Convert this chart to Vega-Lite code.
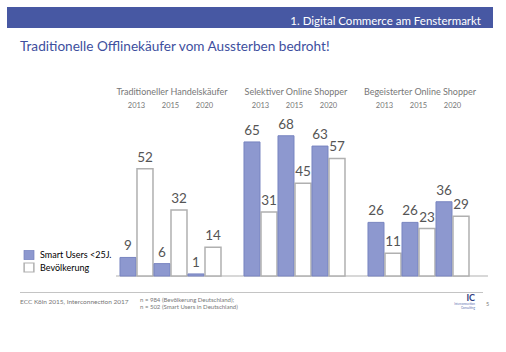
{
  "$schema": "https://vega.github.io/schema/vega-lite/v6.json",
  "padding": {"left": 7, "top": 7, "right": 0, "bottom": 0},
  "background": "white",
  "config": {"view": {"stroke": null}, "font": "Lato"},
  "spacing": 15,
  "vconcat": [
    {
      "spacing": 12,
      "vconcat": [
        {
          "width": 486,
          "height": 21,
          "view": {"fill": "#4758a3", "stroke": null},
          "data": {"values": [{"label": "1. Digital Commerce am Fenstermarkt"}]},
          "mark": {"type": "text", "align": "right", "baseline": "alphabetic", "dx": -12, "dy": -3, "fontSize": 11.5, "color": "#ffffff", "font": "Lato"},
          "encoding": {
            "text": {"field": "label", "type": "nominal"},
            "x": {"value": "width"},
            "y": {"value": "height"}
          }
        },
        {
          "width": 486,
          "height": 165,
          "title": {"text": "Traditionelle Offlinekäufer vom Aussterben bedroht!", "anchor": "start", "frame": "group", "dx": 13, "offset": 33, "fontSize": 13.6, "fontWeight": "normal", "font": "Lato", "color": "#3e4f9e"},
          "data": {"values": [
            {"group": "Traditioneller Handelskäufer", "year": "2013", "series": "Smart Users <25J.", "slot": "2013 S", "value": 9},
            {"group": "Traditioneller Handelskäufer", "year": "2013", "series": "Bevölkerung", "slot": "2013 B", "value": 52},
            {"group": "Traditioneller Handelskäufer", "year": "2015", "series": "Smart Users <25J.", "slot": "2015 S", "value": 6},
            {"group": "Traditioneller Handelskäufer", "year": "2015", "series": "Bevölkerung", "slot": "2015 B", "value": 32},
            {"group": "Traditioneller Handelskäufer", "year": "2020", "series": "Smart Users <25J.", "slot": "2020 S", "value": 1},
            {"group": "Traditioneller Handelskäufer", "year": "2020", "series": "Bevölkerung", "slot": "2020 B", "value": 14},
            {"group": "Selektiver Online Shopper", "year": "2013", "series": "Smart Users <25J.", "slot": "2013 S", "value": 65},
            {"group": "Selektiver Online Shopper", "year": "2013", "series": "Bevölkerung", "slot": "2013 B", "value": 31},
            {"group": "Selektiver Online Shopper", "year": "2015", "series": "Smart Users <25J.", "slot": "2015 S", "value": 68},
            {"group": "Selektiver Online Shopper", "year": "2015", "series": "Bevölkerung", "slot": "2015 B", "value": 45},
            {"group": "Selektiver Online Shopper", "year": "2020", "series": "Smart Users <25J.", "slot": "2020 S", "value": 63},
            {"group": "Selektiver Online Shopper", "year": "2020", "series": "Bevölkerung", "slot": "2020 B", "value": 57},
            {"group": "Begeisterter Online Shopper", "year": "2013", "series": "Smart Users <25J.", "slot": "2013 S", "value": 26},
            {"group": "Begeisterter Online Shopper", "year": "2013", "series": "Bevölkerung", "slot": "2013 B", "value": 11},
            {"group": "Begeisterter Online Shopper", "year": "2015", "series": "Smart Users <25J.", "slot": "2015 S", "value": 26},
            {"group": "Begeisterter Online Shopper", "year": "2015", "series": "Bevölkerung", "slot": "2015 B", "value": 23},
            {"group": "Begeisterter Online Shopper", "year": "2020", "series": "Smart Users <25J.", "slot": "2020 S", "value": 36},
            {"group": "Begeisterter Online Shopper", "year": "2020", "series": "Bevölkerung", "slot": "2020 B", "value": 29}
          ]},
          "encoding": {
            "x": {
              "field": "group", "type": "nominal",
              "sort": ["Traditioneller Handelskäufer", "Selektiver Online Shopper", "Begeisterter Online Shopper"],
              "scale": {"paddingInner": 0, "paddingOuter": 0.4597, "align": 0.956},
              "axis": {"orient": "top", "title": null, "domain": false, "ticks": false, "tickSize": 0, "labelPadding": 15, "labelOffset": -6, "labelFontSize": 9, "labelColor": "#777777", "labelFont": "Lato", "labelAngle": 0}
            }
          },
          "layer": [
            {
              "transform": [{"filter": "datum.slot === '2013 S'"}],
              "mark": {"type": "rect", "fill": null, "stroke": "#cccccc", "strokeWidth": 1.6},
              "encoding": {
                "y": {"datum": 0, "type": "quantitative", "scale": {"domain": [0, 76]}, "axis": null},
                "y2": {"datum": 0}
              }
            },
            {
              "mark": {"type": "bar"},
              "encoding": {
                "xOffset": {"field": "slot", "type": "nominal", "scale": {"domain": ["2013 S", "2013 B", "2015 S", "2015 B", "2020 S", "2020 B"], "paddingInner": 0.0588, "paddingOuter": 0.676, "align": 0.174}},
                "y": {"field": "value", "type": "quantitative", "stack": null, "scale": {"domain": [0, 76]}, "axis": null},
                "fill": {"field": "series", "type": "nominal", "scale": {"domain": ["Smart Users <25J.", "Bevölkerung"], "range": ["#8d98cf", "#ffffff"]},
                  "legend": {"title": null, "orient": "none", "legendX": 16, "legendY": 243, "symbolType": "square", "symbolSize": 95, "symbolStrokeWidth": 1.2, "labelFontSize": 9, "labelFont": "Lato", "rowPadding": 2.5, "clipHeight": 10, "labelOffset": 5,
                    "encoding": {"labels": {"fill": {"signal": "datum.value === 'Bevölkerung' ? '#666666' : '#4356b0'"}}}}},
                "stroke": {"field": "series", "type": "nominal", "scale": {"domain": ["Smart Users <25J.", "Bevölkerung"], "range": ["#7884c0", "#b0b0b0"]},
                  "legend": {"title": null, "orient": "none", "legendX": 16, "legendY": 243, "symbolType": "square", "symbolSize": 95, "symbolStrokeWidth": 1.2, "labelFontSize": 9, "labelFont": "Lato", "rowPadding": 2.5, "clipHeight": 10, "labelOffset": 5,
                    "encoding": {"labels": {"fill": {"signal": "datum.value === 'Bevölkerung' ? '#666666' : '#4356b0'"}}}}},
                "strokeWidth": {"field": "series", "type": "nominal", "scale": {"domain": ["Smart Users <25J.", "Bevölkerung"], "range": [1, 1.5]}, "legend": null}
              }
            },
            {
              "mark": {"type": "text", "dy": -4, "baseline": "bottom", "fontSize": 13.5, "color": "#555555", "font": "Lato"},
              "encoding": {
                "xOffset": {"field": "slot", "type": "nominal"},
                "y": {"field": "value", "type": "quantitative", "stack": null},
                "text": {"field": "value", "type": "quantitative"}
              }
            },
            {
              "transform": [{"filter": "datum.series === 'Smart Users <25J.'"}],
              "mark": {"type": "text", "dx": 8.5, "dy": -5, "baseline": "middle", "fontSize": 7.5, "color": "#777777", "font": "Lato"},
              "encoding": {
                "xOffset": {"field": "slot", "type": "nominal"},
                "y": {"value": 0},
                "text": {"field": "year", "type": "nominal"}
              }
            }
          ]
        }
      ]
    },
    {
      "spacing": 0,
      "hconcat": [
        {"width": 13, "height": 1, "mark": {"type": "text", "text": ""}},
        {"width": 120, "height": 1, "view": {"fill": "#c4c4c4", "stroke": null}, "mark": {"type": "text", "text": ""},
          "title": {"text": "ECC Köln 2015, Interconnection 2017", "orient": "bottom", "anchor": "start", "frame": "group", "offset": 6, "fontSize": 6.5, "fontWeight": "normal", "font": "Lato", "color": "#777777"}},
        {"width": 303, "height": 1, "view": {"fill": "#c4c4c4", "stroke": null}, "mark": {"type": "text", "text": ""},
          "title": {"text": ["n = 984 (Bevölkerung Deutschland);", "n = 502 (Smart Users in Deutschland)"], "orient": "bottom", "anchor": "start", "frame": "group", "offset": 4, "fontSize": 6, "lineHeight": 7, "fontWeight": "normal", "font": "Lato", "color": "#777777"}},
        {"width": 40, "height": 1, "view": {"fill": "#c4c4c4", "stroke": null}, "mark": {"type": "text", "text": ""},
          "title": {"text": "IC", "subtitle": ["Interconnection", "Consulting"], "orient": "bottom", "anchor": "end", "frame": "group", "dx": -8, "offset": 1, "fontSize": 9, "fontWeight": "bold", "font": "Lato", "color": "#2f3d80", "subtitleFontSize": 3, "subtitleLineHeight": 3.5, "subtitleFont": "Lato", "subtitleColor": "#6070b0", "subtitlePadding": 0}},
        {"width": 10, "height": 1, "mark": {"type": "text", "text": ""},
          "title": {"text": "5", "orient": "bottom", "anchor": "start", "frame": "group", "dx": 3, "offset": 9, "fontSize": 5.5, "fontWeight": "normal", "font": "Lato", "color": "#777777"}}
      ]
    }
  ]
}
